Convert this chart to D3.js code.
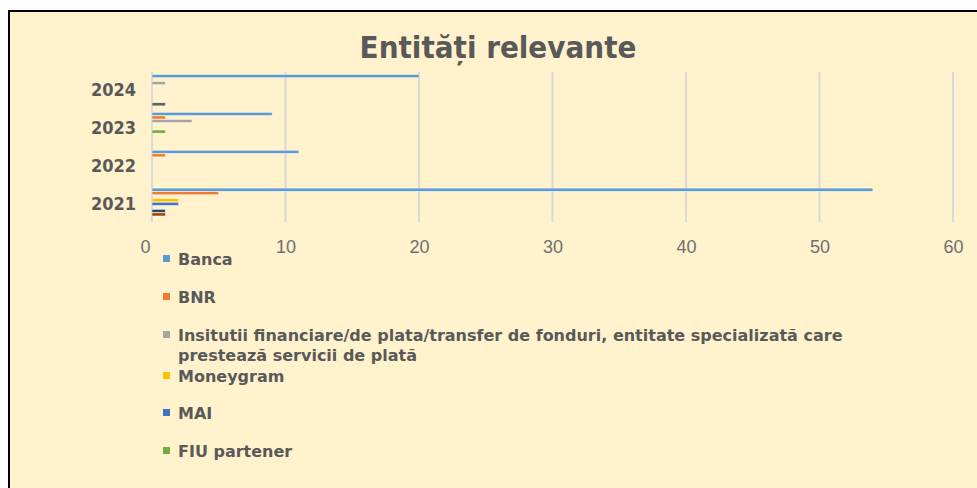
<!DOCTYPE html>
<html>
<head>
<meta charset="utf-8">
<script src="https://cdn.jsdelivr.net/npm/d3@7"></script>
<style>
	body { margin: 0; background: #fff; }
	svg { display: block; }
</style>
</head>
<body>
<script>
// years, top to bottom as in the picture
var years = ["2024", "2023", "2022", "2021"];

// series names (the last ones are cut off in the legend)
var seriesNames = [
	"Banca",
	"BNR",
	"Insitutii financiare/de plata/transfer de fonduri, entitate specializată care prestează servicii de plată",
	"Moneygram",
	"MAI",
	"FIU partener",
	"Poliție",
	"Parchet",
	"Altele"
];
var seriesColors = ["#5B9BD5", "#ED7D31", "#A5A5A5", "#FFC000", "#4472C4", "#70AD47", "#264478", "#9E480E", "#636363"];

// values per series, in the order of years above
var banca    = [20, 9, 11, 54];
var bnr      = [0, 1, 1, 5];
var insitutii = [1, 3, 0, 0];
var moneygram = [0, 0, 0, 2];
var mai      = [0, 0, 0, 2];
var fiu      = [0, 1, 0, 0];
var politie  = [0, 0, 0, 1];
var parchet  = [0, 0, 0, 1];
var altele   = [1, 0, 0, 0];
var seriesValues = [banca, bnr, insitutii, moneygram, mai, fiu, politie, parchet, altele];

var xTicks = [0, 10, 20, 30, 40, 50, 60];

// only these legend entries fit in the frame
var legendShown = 6;

var W = 977, H = 488;
var svg = d3.select("body").append("svg")
	.attr("width", W)
	.attr("height", H);

svg.append("rect")
	.attr("x", 9).attr("y", 11)
	.attr("width", W).attr("height", H)
	.attr("fill", "#FFF2CC")
	.attr("stroke", "#000")
	.attr("stroke-width", 2);

svg.append("text")
	.attr("x", 498)
	.attr("y", 58)
	.attr("text-anchor", "middle")
	.attr("font-family", "DejaVu Sans Condensed")
	.attr("font-weight", "bold")
	.attr("font-size", 31)
	.attr("fill", "#595959")
	.text("Entități relevante");

var x = d3.scaleLinear().domain([0, 60]).range([152, 953]);
var y = d3.scaleBand().domain(years).range([72, 222]).paddingInner(0.16).paddingOuter(0.06);
var ySub = d3.scaleBand().domain(d3.range(seriesNames.length)).range([0, y.bandwidth()]);

// grid lines
svg.append("g")
	.selectAll("line")
	.data(xTicks)
	.enter().append("line")
		.attr("x1", function(d) { return x(d); })
		.attr("x2", function(d) { return x(d); })
		.attr("y1", 72)
		.attr("y2", 222)
		.attr("stroke", "#D9D9D9")
		.attr("stroke-width", 2);

// x tick labels
var xAxis = svg.append("g")
	.attr("transform", "translate(0,222)")
	.call(d3.axisBottom(x).tickValues(xTicks).tickSize(0).tickPadding(18));
xAxis.select(".domain").remove();
xAxis.selectAll("text")
	.attr("font-family", "Liberation Sans")
	.attr("font-size", 18)
	.attr("fill", "#6f6f6f");
xAxis.selectAll(".tick").filter(function(d) { return d === 0; })
	.select("text").attr("dx", -7);

// year labels
var yAxis = svg.append("g")
	.attr("transform", "translate(136,0)")
	.call(d3.axisLeft(y).tickSize(0).tickPadding(0));
yAxis.select(".domain").remove();
yAxis.selectAll("text")
	.attr("font-family", "DejaVu Sans Condensed")
	.attr("font-weight", "bold")
	.attr("font-size", 18)
	.attr("fill", "#595959");

// bars
var groups = svg.append("g")
	.selectAll("g")
	.data(seriesValues)
	.enter().append("g")
		.attr("fill", function(d, i) { return seriesColors[i]; });

groups.selectAll("rect")
	.data(function(vals, si) { return vals.map(function(v, yi) { return { s: si, year: years[yi], v: v }; }); })
	.enter().append("rect")
		.filter(function(d) { return d.v > 0; })
		.attr("x", x(0))
		.attr("y", function(d) { return y(d.year) + ySub(d.s) + 0.2; })
		.attr("width", function(d) { return x(d.v) - x(0); })
		.attr("height", ySub.bandwidth() - 0.4)
		.attr("stroke", "#FFF8E6")
		.attr("stroke-width", 0.5);

// legend
var legendY = [259, 297, 335, 376, 413, 451];
var legend = svg.append("g")
	.selectAll("g")
	.data(seriesNames.slice(0, legendShown))
	.enter().append("g")
		.attr("transform", function(d, i) { return "translate(163," + legendY[i] + ")"; });

legend.append("rect")
	.attr("x", 0).attr("y", -4)
	.attr("width", 7).attr("height", 7)
	.attr("fill", function(d, i) { return seriesColors[i]; });

legend.append("text")
	.attr("x", 15)
	.attr("y", 6)
	.attr("font-family", "DejaVu Sans")
	.attr("font-weight", "bold")
	.attr("font-size", 16)
	.attr("fill", "#595959")
	.each(function(d) {
		var t = d3.select(this);
		if (d.length > 80) {
			t.append("tspan").attr("x", 15).text("Insitutii financiare/de plata/transfer de fonduri, entitate specializată care");
			t.append("tspan").attr("x", 15).attr("dy", 20).text("prestează servicii de plată");
		} else {
			t.text(d);
		}
	});
</script>
</body>
</html>
